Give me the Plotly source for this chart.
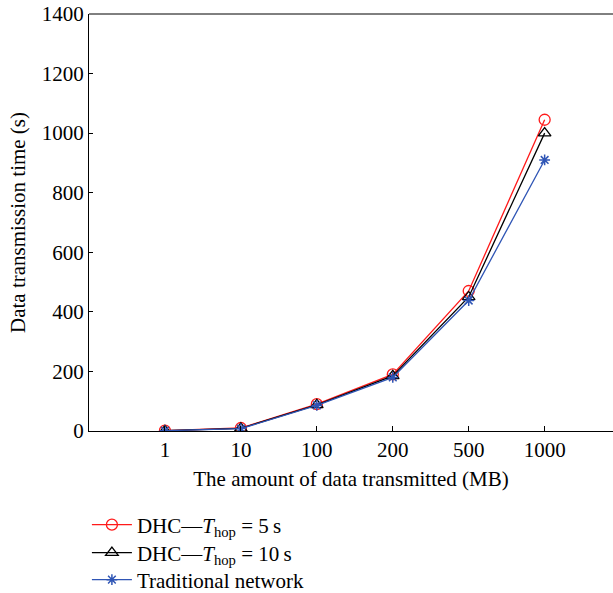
import plotly.graph_objects as go

categories = ["1", "10", "100", "200", "500", "1000"]
dhc5 = [1, 10, 90, 190, 470, 1045]
dhc10 = [1, 9, 88, 185, 450, 1000]
traditional = [1, 8, 86, 180, 438, 910]

xpos = list(range(1, len(categories) + 1))
FONT = "Liberation Serif"

fig = go.Figure()
fig.add_trace(go.Scatter(
    x=xpos, y=dhc5, mode="lines+markers", legend="legend",
    name="DHC\u2014<i>T</i><sub>hop</sub> = 5\u2009s",
    line=dict(color="#ff1a1a", width=1.3),
    marker=dict(symbol="circle-open", size=11, color="#ff1a1a", line=dict(width=1.3)),
))
fig.add_trace(go.Scatter(
    x=xpos, y=dhc10, mode="lines+markers", legend="legend2",
    name="DHC\u2014<i>T</i><sub>hop</sub> = 10\u2009s",
    line=dict(color="black", width=1.3),
    marker=dict(symbol="triangle-up-open", size=11, color="black", line=dict(width=1.3)),
))
fig.add_trace(go.Scatter(
    x=xpos, y=traditional, mode="lines+markers", legend="legend3",
    name="Traditional network",
    line=dict(color="#2f55b5", width=1.3),
    marker=dict(symbol="asterisk-open", size=9, color="#2f55b5", line=dict(width=1.5, color="#2f55b5")),
))

def leg(y):
    return dict(x=-0.004, y=y, xanchor="left", yanchor="middle",
                font=dict(family=FONT, size=21), bgcolor="rgba(0,0,0,0)",
                itemwidth=40)

fig.update_layout(
    width=613, height=593,
    margin=dict(l=89, r=0, t=14, b=162, autoexpand=False),
    paper_bgcolor="white", plot_bgcolor="white",
    font=dict(family=FONT, size=21, color="black"),
    showlegend=True,
    legend=leg(-0.2254),
    legend2=leg(-0.2926),
    legend3=leg(-0.3573),
)
fig.update_xaxes(
    range=[0, 6.9], tickmode="array", tickvals=xpos, ticktext=categories,
    showgrid=False, zeroline=False, showline=True, linecolor="black", linewidth=1,
    ticks="inside", ticklen=5, tickcolor="black", mirror=False,
    title=dict(text="The amount of data transmitted (MB)", font=dict(size=21), standoff=10),
    tickfont=dict(size=21),
)
fig.update_yaxes(
    range=[0, 1400], dtick=200,
    showgrid=False, zeroline=False, showline=True, linecolor="black", linewidth=1,
    ticks="inside", ticklen=4, tickcolor="black",
    title=dict(text="Data transmission time (s)", font=dict(size=21), standoff=10),
    tickfont=dict(size=21),
)
# top border line
fig.add_shape(type="line", xref="paper", yref="paper", x0=0, x1=1, y0=1, y1=1,
              line=dict(color="black", width=1))

fig.write_html("out.html")
